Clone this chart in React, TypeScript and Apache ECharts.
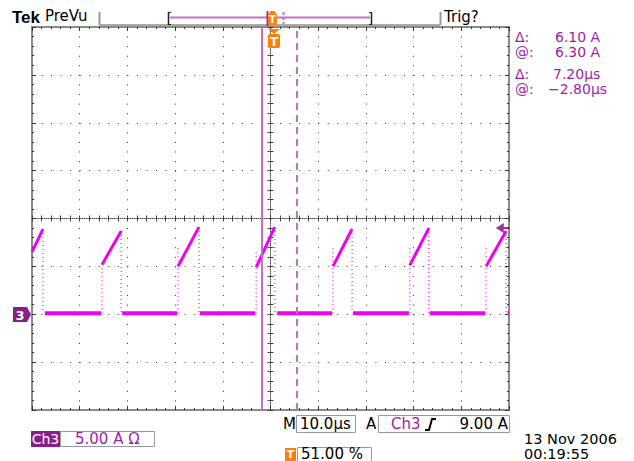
import React, { useEffect, useRef } from "react";
import * as echarts from "echarts";

// Horizontal: µs from the left edge of the screen (10.0 µs/div, 10 divisions)
const xMin = 0;
const xMax = 100;
const xStep = 10;
// Vertical: A relative to the Ch3 ground marker (5.00 A/div)
const yMin = -10;
const yMax = 30;
const yStep = 5;

const triggerPosUs = 51; // 51.00 %
const triggerLevelA = 9.0;
const cursorAtUs = -2.8;
const cursorDeltaUs = 7.2;

// Ramps of the current waveform (first one is cut by the left edge)
const rampStartUs = [0, 14.7, 30.6, 47.0, 63.1, 79.2, 95.2];
const rampStartA = [6.5, 5.2, 5.0, 4.9, 5.0, 5.1, 5.0];
const rampEndUs = [2.3, 18.7, 35.0, 50.9, 67.1, 83.2, 99.4];
const rampEndA = [8.9, 8.7, 9.1, 9.1, 8.9, 9.0, 8.7];
const riseTopA = [6.5, 5.3, 7.0, 6.8, 7.0, 7.2, 6.9];
// Flat parts between ramps
const baseStartUs = [2.7, 18.9, 35.2, 51.4, 67.3, 83.4, 99.7];
const baseEndUs = [14.5, 30.4, 46.8, 62.9, 79.0, 95.0, 100];
const baseA = [0.1, 0.1, 0.1, 0.1, 0.1, 0.1, 0.1];

const readoutLabels = ["Δ:", "@:", "Δ:", "@:"];
const readoutValues = ["6.10 A", "6.30 A", "7.20µs", "−2.80µs"];

const MAGENTA = "#f000f0";
const CURSOR = "#c46ec8";
const PURPLE_TXT = "#9e1ea8";
const ORANGE = "#ff8000";
const BADGE = "#8b1c8b";
const FONT = '"DejaVu Sans", sans-serif';

const BRK: any = ["-", "-"];

function txt(x: number, y: number, text: string, o: any = {}) {
  const align = o.align || "left";
  const size = o.size || 15;
  return {
    type: "text",
    x,
    y,
    z: 100,
    style: {
      text,
      fill: o.fill || "#000",
      font: `${o.bold ? "bold " : ""}${size}px ${o.family || FONT}`,
      lineHeight: size,
      align,
      verticalAlign: "middle",
      textAlign: align,
      textVerticalAlign: "middle",
    },
  };
}
function line(x1: number, y1: number, x2: number, y2: number, stroke: string, w = 1, dash?: number[]) {
  return {
    type: "line",
    z: 100,
    shape: { x1, y1, x2, y2 },
    style: { stroke, lineWidth: w, lineDash: dash },
  };
}
function rect(x: number, y: number, w: number, h: number, style: any, r = 0) {
  return { type: "rect", z: 100, shape: { x, y, width: w, height: h, r }, style };
}

export default function App() {
  const ref = useRef<HTMLDivElement>(null);
  useEffect(() => {
    if (!ref.current) return;
    const chart = echarts.init(ref.current, undefined, { renderer: "svg" });

    const rampData: any[] = [];
    for (let i = 0; i < rampStartUs.length; i++) {
      rampData.push([rampStartUs[i], rampStartA[i]], [rampEndUs[i], rampEndA[i]], BRK);
    }
    const baseData: any[] = [];
    for (let i = 0; i < baseStartUs.length; i++) {
      baseData.push([baseStartUs[i], baseA[i]], [baseEndUs[i], baseA[i]], BRK);
    }
    const edgeData: any[] = [];
    for (let i = 1; i < rampStartUs.length; i++) {
      edgeData.push([rampStartUs[i], baseA[i - 1]], [rampStartUs[i], riseTopA[i]], BRK);
    }
    for (let i = 0; i < rampEndUs.length; i++) {
      edgeData.push([rampEndUs[i], rampEndA[i]], [rampEndUs[i], baseA[i]], BRK);
    }

    const cursorA = triggerPosUs + cursorAtUs;
    const cursorB = cursorA + cursorDeltaUs;

    const gridTop = 27;
    const gridLeft = 32;
    const gridW = 477;
    const gridH = 383;

    const baseX = (pos: string, extra: any = {}) => ({
      type: "value",
      min: xMin,
      max: xMax,
      interval: xStep,
      position: pos,
      axisLabel: { show: false },
      axisLine: { show: true, onZero: false, lineStyle: { color: "#8a8a8a", width: 2 } },
      axisTick: { show: true, inside: true, length: 4, lineStyle: { color: "#333" } },
      minorTick: { show: true, splitNumber: 5, length: 2, lineStyle: { color: "#333" } },
      splitLine: { show: false },
      ...extra,
    });
    const baseY = (pos: string, extra: any = {}) => ({
      type: "value",
      min: yMin,
      max: yMax,
      interval: yStep,
      position: pos,
      axisLabel: { show: false },
      axisLine: { show: true, onZero: false, lineStyle: { color: "#8a8a8a", width: 2 } },
      axisTick: { show: true, inside: true, length: 4, lineStyle: { color: "#333" } },
      minorTick: { show: true, splitNumber: 5, length: 2, lineStyle: { color: "#333" } },
      splitLine: { show: false },
      ...extra,
    });
    const centerLine = { show: true, onZero: false, lineStyle: { color: "#555", width: 1, type: [1, 1] } };

    const graphic: any[] = [
      // header
      txt(12, 17, "Tek", { bold: true, size: 17, family: '"Liberation Sans", sans-serif' }),
      txt(45, 16, "PreVu"),
      line(99.5, 12, 99.5, 25, "#999", 2),
      line(99, 25, 440, 25, "#aaa", 2),
      line(440.5, 12, 440.5, 25, "#999", 2),
      txt(444, 17, "Trig?"),
      line(170, 17.5, 370, 17.5, CURSOR, 2),
      line(168.5, 12, 168.5, 25, "#222", 1.5),
      line(168, 12.5, 171, 12.5, "#222", 1),
      line(168, 24.5, 171, 24.5, "#222", 1),
      line(371.5, 12, 371.5, 25, "#222", 1.5),
      line(369, 12.5, 372, 12.5, "#222", 1),
      line(369, 24.5, 372, 24.5, "#222", 1),
      line(283.5, 12, 283.5, 24, CURSOR, 2, [3, 2]),
      line(267.5, 11, 267.5, 26, "#9a2f9a", 2),
      rect(268, 13, 9, 12, { fill: ORANGE }, 2),
      rect(270, 11, 5, 3, { fill: ORANGE }),
      txt(272.5, 19, "T", { fill: "#fff", bold: true, size: 10, align: "center" }),
      // trigger position marker below the top border
      {
        type: "polygon",
        z: 100,
        shape: { points: [[268, 29], [280, 29], [274, 34]] },
        style: { fill: ORANGE },
      },
      rect(268, 34, 12, 14, { fill: ORANGE }, 2),
      txt(274, 41.5, "T", { fill: "#fff", bold: true, size: 12, align: "center" }),
      // channel ground marker
      {
        type: "polygon",
        z: 100,
        shape: { points: [[13, 307], [27, 307], [31, 314.5], [27, 322], [13, 322]] },
        style: { fill: BADGE },
      },
      txt(20, 315, "3", { fill: "#fff", bold: true, size: 13, align: "center" }),
      // bottom readouts
      txt(283, 424, "M"),
      rect(296.5, 415.5, 59, 17, { fill: "none", stroke: "#999", lineWidth: 1 }),
      txt(300, 424, "10.0µs"),
      txt(366, 424, "A"),
      rect(378.5, 415.5, 131, 17, { fill: "none", stroke: "#999", lineWidth: 1 }),
      txt(391, 424, "Ch3", { fill: PURPLE_TXT }),
      {
        type: "polyline",
        z: 100,
        shape: { points: [[425, 430], [429, 430], [432, 419], [436, 419]] },
        style: { stroke: "#000", lineWidth: 2, fill: "none" },
      },
      txt(508, 424, "9.00 A", { align: "right" }),
      rect(31, 431, 29, 16, { fill: BADGE }),
      txt(45.5, 439, "Ch3", { fill: "#fff", size: 14, align: "center" }),
      rect(60.5, 431.5, 94, 15, { fill: "none", stroke: "#999", lineWidth: 1 }),
      txt(75, 439, "5.00 A Ω", { fill: PURPLE_TXT }),
      rect(285, 448, 11, 13, { fill: ORANGE }),
      txt(290.5, 454.5, "T", { fill: "#fff", bold: true, size: 11, align: "center" }),
      rect(297.5, 447.5, 74, 14, { fill: "none", stroke: "#999", lineWidth: 1 }),
      txt(301, 453.5, "51.00 %"),
      txt(524, 438.5, "13 Nov 2006", { size: 14.5 }),
      txt(524, 453.5, "00:19:55", { size: 14.5 }),
    ];
    const readY = [37, 52, 74, 89];
    const readX = [555, 555, 553, 548];
    readoutLabels.forEach((l, i) => {
      graphic.push(txt(515, readY[i], l, { fill: PURPLE_TXT, size: 14 }));
      graphic.push(txt(readX[i], readY[i], readoutValues[i], { fill: PURPLE_TXT, size: 14 }));
    });

    chart.setOption({
      animation: false,
      backgroundColor: "#fff",
      grid: { left: gridLeft, top: gridTop, width: gridW, height: gridH, containLabel: false },
      xAxis: [
        baseX("bottom", {
          splitLine: { show: true, lineStyle: { color: "#333", width: 1, type: [1, 8.575] } },
        }),
        baseX("top"),
        baseX("bottom", {
          offset: -gridH / 2,
          axisLine: centerLine,
          axisTick: { show: true, inside: true, length: 3, lineStyle: { color: "#444" } },
          minorTick: { show: true, splitNumber: 5, length: 3, lineStyle: { color: "#444" } },
        }),
        baseX("bottom", {
          offset: -gridH / 2,
          axisLine: { show: false },
          axisTick: { show: true, inside: false, length: 3, lineStyle: { color: "#444" } },
          minorTick: { show: true, splitNumber: 5, length: 3, lineStyle: { color: "#444" } },
        }),
      ],
      yAxis: [
        baseY("left", {
          splitLine: { show: true, lineStyle: { color: "#333", width: 1, type: [1, 8.54] } },
        }),
        baseY("right"),
        baseY("left", {
          offset: -gridW / 2,
          axisLine: centerLine,
          axisTick: { show: true, inside: true, length: 3, lineStyle: { color: "#444" } },
          minorTick: { show: true, splitNumber: 5, length: 3, lineStyle: { color: "#444" } },
        }),
        baseY("left", {
          offset: -gridW / 2,
          axisLine: { show: false },
          axisTick: { show: true, inside: false, length: 3, lineStyle: { color: "#444" } },
          minorTick: { show: true, splitNumber: 5, length: 3, lineStyle: { color: "#444" } },
        }),
      ],
      series: [
        {
          type: "line",
          name: "edges",
          data: edgeData,
          symbol: "none",
          connectNulls: false,
          lineStyle: { color: MAGENTA, width: 1.5, type: [1, 3], opacity: 0.75 },
          silent: true,
          z: 3,
        },
        {
          type: "line",
          name: "baseline",
          data: baseData,
          symbol: "none",
          connectNulls: false,
          lineStyle: { color: MAGENTA, width: 4 },
          silent: true,
          z: 4,
        },
        {
          type: "line",
          name: "ramps",
          data: rampData,
          symbol: "none",
          connectNulls: false,
          lineStyle: { color: MAGENTA, width: 3 },
          silent: true,
          z: 4,
          markLine: {
            silent: true,
            symbol: "none",
            label: { show: false },
            data: [
              { xAxis: cursorA, lineStyle: { color: CURSOR, width: 2, type: "solid" } },
              { xAxis: cursorB, lineStyle: { color: CURSOR, width: 2, type: [7, 5] } },
            ],
          },
        },
        {
          type: "scatter",
          name: "trigger level",
          data: [[98.7, triggerLevelA]],
          symbol: "path://M0,5 L8,0 L8,10 Z M8,4 L14,4 L14,6 L8,6 Z",
          symbolSize: [14, 10],
          itemStyle: { color: "#800080" },
          silent: true,
          z: 6,
        },
      ],
      graphic,
    });
    return () => chart.dispose();
  }, []);
  return (
    <div
      ref={ref}
      style={{ position: "fixed", left: 0, top: 0, width: 634, height: 461, background: "#fff" }}
    />
  );
}
